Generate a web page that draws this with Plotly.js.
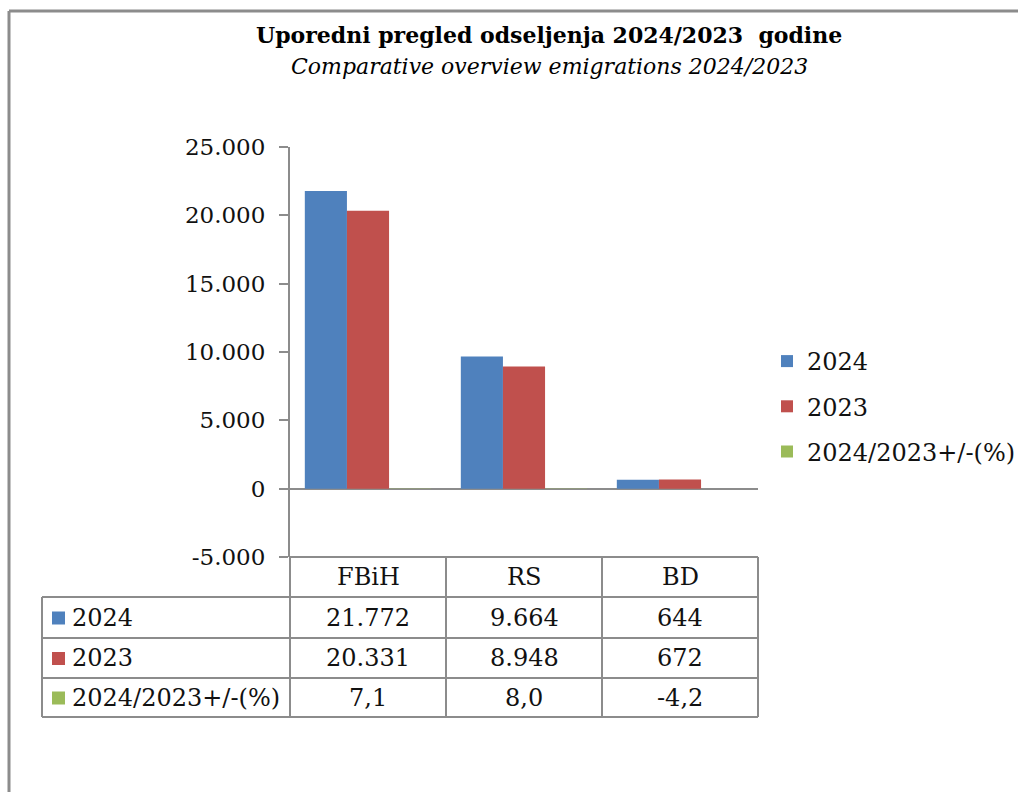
<!DOCTYPE html>
<html>
<head>
<meta charset="utf-8">
<script src="https://cdn.plot.ly/plotly-3.0.1.min.js"></script>
<style>
html,body{margin:0;padding:0;background:#fff;overflow:hidden;}
#chart{width:1018px;height:792px;}
</style>
</head>
<body>
<div id="chart"></div>
<script>
// ---- data ----
const categories = ['FBiH', 'RS', 'BD'];
const values2024 = [21772, 9664, 644];
const values2023 = [20331, 8948, 672];
const valuesChange = [7.1, 8.0, -4.2];
const seriesNames = ['2024', '2023', '2024/2023+/-(%)'];
const seriesColors = ['#4F81BD', '#C0504D', '#9BBB59'];
const yTickValues = [-5000, 0, 5000, 10000, 15000, 20000, 25000];
const yTickLabels = ['-5.000', '0', '5.000', '10.000', '15.000', '20.000', '25.000'];
const titleText = 'Uporedni pregled odseljenja 2024/2023  godine';
const subtitleText = 'Comparative overview emigrations 2024/2023';

// ---- layout geometry (pixels) ----
const W = 1018, H = 792;
const L = 290, R = 758, T = 147, B = 557;
const px = p => (p - L) / (R - L);
const py = p => (B - p) / (B - T);
const FONT = 'DejaVu Serif, Liberation Serif, serif';
const GRID = '#8c8c8c';

function fmtInt(v) {
  const s = String(Math.abs(Math.round(v)));
  const out = s.replace(/\B(?=(\d{3})+(?!\d))/g, '.');
  return (v < 0 ? '-' : '') + out;
}
function fmtDec(v) {
  return v.toFixed(1).replace('.', ',');
}

const seriesValues = [values2024, values2023, valuesChange];
const traces = seriesValues.map((vals, i) => ({
  type: 'bar',
  x: categories,
  y: vals,
  name: seriesNames[i],
  legendgroup: 'g' + i,
  marker: { color: seriesColors[i], line: { width: 0 } },
  hoverinfo: 'skip'
}));

// ---- data table (shapes + annotations) ----
const shapes = [];
const annotations = [];
const line = (x0, y0, x1, y1, w) => shapes.push({
  type: 'line', xref: 'paper', yref: 'paper',
  x0: px(x0), y0: py(y0), x1: px(x1), y1: py(y1),
  line: { color: GRID, width: w || 2 }
});

// outer frame
line(9, 11, W + 5, 11, 3);
line(9, 11, 9, H + 5, 3);

const tableLeft = 42;
const colEdges = [L, 446, 602, R];
const rowEdges = [B, 597, 638, 678, 717];

for (let c = 0; c < colEdges.length; c++) line(colEdges[c], B, colEdges[c], rowEdges[4]);
line(tableLeft, rowEdges[1], tableLeft, rowEdges[4]);
line(L, B, R, B);
for (let r = 1; r < rowEdges.length; r++) line(tableLeft, rowEdges[r], R, rowEdges[r]);

const cellFont = { family: FONT, size: 24, color: '#111' };
categories.forEach((cat, c) => {
  annotations.push({
    xref: 'paper', yref: 'paper', showarrow: false,
    x: px((colEdges[c] + colEdges[c + 1]) / 2), y: py((rowEdges[0] + rowEdges[1]) / 2),
    text: cat, font: cellFont, xanchor: 'center', yanchor: 'middle'
  });
});
seriesValues.forEach((vals, r) => {
  const yc = (rowEdges[r + 1] + rowEdges[r + 2]) / 2;
  shapes.push({
    type: 'rect', xref: 'paper', yref: 'paper',
    x0: px(52), x1: px(65), y0: py(yc - 6), y1: py(yc + 7),
    fillcolor: seriesColors[r], line: { width: 0 }
  });
  annotations.push({
    xref: 'paper', yref: 'paper', showarrow: false,
    x: px(70), y: py(yc), text: seriesNames[r], font: cellFont,
    xanchor: 'left', yanchor: 'middle'
  });
  vals.forEach((v, c) => {
    annotations.push({
      xref: 'paper', yref: 'paper', showarrow: false,
      x: px((colEdges[c] + colEdges[c + 1]) / 2), y: py(yc),
      text: r === 2 ? fmtDec(v) : fmtInt(v), font: cellFont,
      xanchor: 'center', yanchor: 'middle'
    });
  });
});

annotations.push({
  xref: 'paper', yref: 'paper', showarrow: false,
  x: px(549), y: py(35), text: '<b>' + titleText + '</b>',
  font: { family: FONT, size: 22, color: '#000' }, xanchor: 'center', yanchor: 'middle'
});
annotations.push({
  xref: 'paper', yref: 'paper', showarrow: false,
  x: px(549), y: py(66), text: '<i>' + subtitleText + '</i>',
  font: { family: FONT, size: 22, color: '#000' }, xanchor: 'center', yanchor: 'middle'
});

const layout = {
  width: W, height: H,
  margin: { l: L, r: W - R, t: T, b: H - B, pad: 0, autoexpand: false },
  paper_bgcolor: '#fff', plot_bgcolor: '#fff',
  separators: ',.',
  barmode: 'group', bargap: 0.19, bargroupgap: 0,
  showlegend: true,
  legend: {
    x: px(767), xanchor: 'left', y: py(339), yanchor: 'top',
    font: { family: FONT, size: 24, color: '#111' },
    tracegroupgap: 11, traceorder: 'grouped', bgcolor: 'rgba(0,0,0,0)'
  },
  xaxis: {
    type: 'category', showticklabels: false, ticks: '', showline: false,
    showgrid: false, zeroline: false, fixedrange: true
  },
  yaxis: {
    range: [-5000, 25000], tickmode: 'array', tickvals: yTickValues, ticktext: yTickLabels,
    ticks: 'outside', ticklen: 9, tickwidth: 2, tickcolor: GRID,
    showline: true, linecolor: GRID, linewidth: 2,
    showgrid: false, zeroline: true, zerolinecolor: GRID, zerolinewidth: 2,
    ticklabelstandoff: 9,
    tickfont: { family: FONT, size: 23, color: '#111' }, fixedrange: true
  },
  shapes: shapes,
  annotations: annotations
};

Plotly.newPlot('chart', traces, layout, { displayModeBar: false, staticPlot: true });
</script>
</body>
</html>
